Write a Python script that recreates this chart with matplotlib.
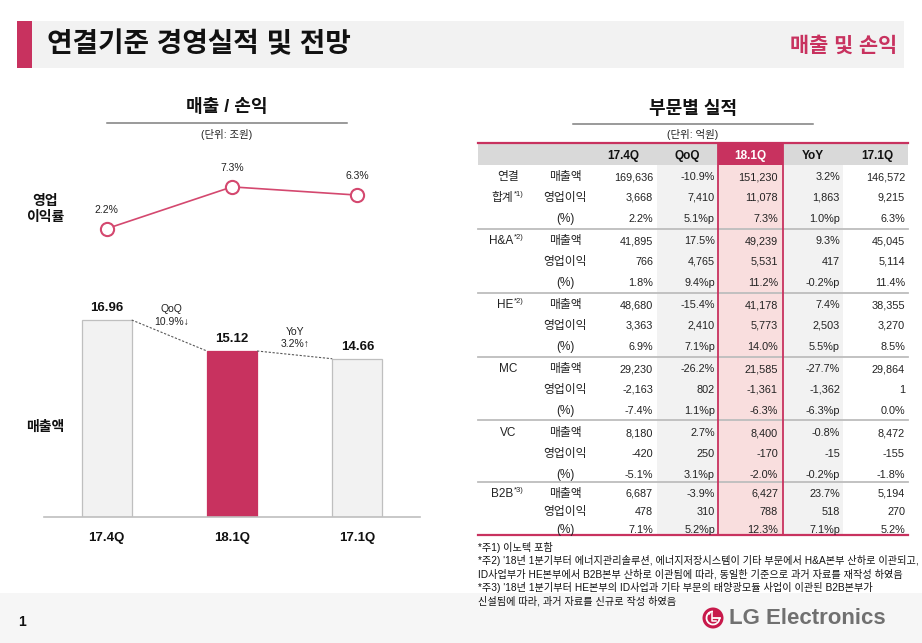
import matplotlib.pyplot as plt
from matplotlib.patches import Rectangle, Circle, Arc

plt.rcParams['font.family'] = ['Liberation Sans', 'Noto Sans CJK KR', 'DejaVu Sans']

PINK = '#C8325F'
LINE_PINK = '#D4486F'
TXT = '#222222'

# left chart data (조원, %)
quarters = ['17.4Q', '18.1Q', '17.1Q']
sales = [16.96, 15.12, 14.66]
op_margin = [2.2, 7.3, 6.3]
highlight = '18.1Q'
qoq_note = 'QoQ\n10.9%↓'
yoy_note = 'YoY\n3.2%↑'

# table data (억원)
col_heads = ['17.4Q', 'QoQ', '18.1Q', 'YoY', '17.1Q']
segments = [['연결', '합계'], ['H&A'], ['HE'], ['MC'], ['VC'], ['B2B']]
seg_notes = ['*1)', '*2)', '*2)', '', '', '*3)']
metrics = ['매출액', '영업이익', '(%)']

q4_17 = ['169,636', '3,668', '2.2%', '41,895', '766', '1.8%',
         '48,680', '3,363', '6.9%', '29,230', '-2,163', '-7.4%',
         '8,180', '-420', '-5.1%', '6,687', '478', '7.1%']
qoq = ['-10.9%', '7,410', '5.1%p', '17.5%', '4,765', '9.4%p',
       '-15.4%', '2,410', '7.1%p', '-26.2%', '802', '1.1%p',
       '2.7%', '250', '3.1%p', '-3.9%', '310', '5.2%p']
q1_18 = ['151,230', '11,078', '7.3%', '49,239', '5,531', '11.2%',
         '41,178', '5,773', '14.0%', '21,585', '-1,361', '-6.3%',
         '8,400', '-170', '-2.0%', '6,427', '788', '12.3%']
yoy = ['3.2%', '1,863', '1.0%p', '9.3%', '417', '-0.2%p',
       '7.4%', '2,503', '5.5%p', '-27.7%', '-1,362', '-6.3%p',
       '-0.8%', '-15', '-0.2%p', '23.7%', '518', '7.1%p']
q1_17 = ['146,572', '9,215', '6.3%', '45,045', '5,114', '11.4%',
         '38,355', '3,270', '8.5%', '29,864', '1', '0.0%',
         '8,472', '-155', '-1.8%', '5,194', '270', '5.2%']
table_cols = [q4_17, qoq, q1_18, yoy, q1_17]

footnotes = [
    '*주1) 이노텍 포함',
    "*주2) '18년 1분기부터 에너지관리솔루션, 에너지저장시스템이 기타 부문에서 H&A본부 산하로 이관되고,",
    'ID사업부가 HE본부에서 B2B본부 산하로 이관됨에 따라, 동일한 기준으로 과거 자료를 재작성 하였음',
    "*주3) '18년 1분기부터 HE본부의 ID사업과 기타 부문의 태양광모듈 사업이 이관된 B2B본부가",
    '신설됨에 따라, 과거 자료를 신규로 작성 하였음',
]

W, H = 922, 643
fig = plt.figure(figsize=(W / 100, H / 100), dpi=100)

# background axes in pixel coordinates
bg = fig.add_axes([0, 0, 1, 1])
bg.set_xlim(0, W)
bg.set_ylim(H, 0)
bg.axis('off')


def px_rect(x0, y0, x1, y1):
    return [x0 / W, 1 - y1 / H, (x1 - x0) / W, (y1 - y0) / H]


def cell(x, y, s, size=7.8, ha='right', **kw):
    # baseline placed so glyphs sit centred on the row line
    bg.text(x, y + 4, s, fontsize=size, ha=ha, va='baseline', color=kw.pop('color', TXT), **kw)


# header band
bg.add_patch(Rectangle((17, 21), 15, 47, color=PINK, lw=0))
bg.add_patch(Rectangle((32, 21), 872, 47, color='#f2f2f2', lw=0))
bg.text(47, 45, '연결기준 경영실적 및 전망', fontsize=20, weight='bold', color='#111111', va='center')
bg.text(897, 46, '매출 및 손익', fontsize=15, weight='bold', color=PINK, va='center', ha='right')

# footer
bg.add_patch(Rectangle((0, 593), W, 50, color='#f6f6f6', lw=0))
bg.text(18, 622, '1', fontsize=10, weight='bold', color='#111111', va='center')
bg.add_patch(Circle((713, 618), 10.5, color='#C8194B', lw=0))
bg.add_patch(Arc((713, 618), 13, 13, theta1=0, theta2=270, color='white', lw=1.3))
bg.plot([713, 719.5], [618, 618], color='white', lw=1.3)
bg.add_patch(Circle((709.2, 613.5), 1.2, color='white', lw=0))
bg.plot([712, 712, 715.5], [612.5, 621, 621], color='white', lw=1.1)
bg.text(729, 618, 'LG Electronics', fontsize=16, weight='bold', color='#707070', va='center')

# left panel titles
bg.text(227, 107, '매출 / 손익', fontsize=13, weight='bold', color='#111111', ha='center', va='center')
bg.plot([107, 347], [123, 123], color='#7f7f7f', lw=1.1)
bg.text(227, 134, '(단위: 조원)', fontsize=7.5, color=TXT, ha='center', va='center')
bg.text(45, 209, '영업\n이익률', fontsize=10, weight='bold', color='#111111', ha='center', va='center',
        linespacing=1.15)
bg.text(45, 427, '매출액', fontsize=10, weight='bold', color='#111111', ha='center', va='center')

# operating margin line
ax1 = fig.add_axes(px_rect(44, 150, 420, 250))
ax1.set_xlim(-0.5, 2.5)
ax1.set_ylim(-0.4, 11.8)
ax1.axis('off')
xs = list(range(len(quarters)))
ax1.plot(xs, op_margin, color=LINE_PINK, lw=1.2, marker='o', ms=9.5, mfc='white', mec=LINE_PINK, mew=1.5)
for x, v in zip(xs, op_margin):
    ax1.annotate(f'{v:.1f}%', (x, v), xytext=(0, 13.5), textcoords='offset points',
                 ha='center', va='center', fontsize=7.5, color=TXT)

# sales bars
ax2 = fig.add_axes(px_rect(44, 290, 420, 517))
ax2.set_xlim(-0.5, 2.5)
ax2.set_ylim(5.27, 18.74)
colors = [PINK if q == highlight else '#f2f2f2' for q in quarters]
edges = [PINK if q == highlight else '#bfbfbf' for q in quarters]
ax2.bar(xs, [s - 5.27 for s in sales], bottom=5.27, width=0.4, color=colors, edgecolor=edges, lw=0.9)
for x, s in zip(xs, sales):
    ax2.annotate(f'{s:.2f}', (x, s), xytext=(0, 4), textcoords='offset points',
                 ha='center', va='bottom', fontsize=9.5, weight='bold', color='#111111')
bw = 0.2
ax2.plot([0 + bw, 1 - bw], [sales[0], sales[1]], color='#595959', lw=0.8, ls=(0, (2, 1.5)))
ax2.plot([1 + bw, 2 - bw], [sales[1], sales[2]], color='#595959', lw=0.8, ls=(0, (2, 1.5)))
ax2.text(0.52, 17.22, qoq_note, ha='center', va='center', fontsize=7.5, color=TXT, linespacing=1.3)
ax2.text(1.5, 15.9, yoy_note, ha='center', va='center', fontsize=7.5, color=TXT, linespacing=1.3)
ax2.set_xticks(xs)
ax2.set_xticklabels(quarters, fontsize=9.5, weight='bold', color='#111111')
ax2.tick_params(axis='x', length=0, pad=11)
ax2.set_yticks([])
for side in ['top', 'right', 'left']:
    ax2.spines[side].set_visible(False)
ax2.spines['bottom'].set_color('#bfbfbf')
ax2.spines['bottom'].set_linewidth(1.2)
ax2.patch.set_alpha(0)

# right panel: table
bg.text(693, 110, '부문별 실적', fontsize=13, weight='bold', color='#111111', ha='center', va='center')
bg.plot([573, 813], [124, 124], color='#7f7f7f', lw=1.1)
bg.text(693, 134, '(단위: 억원)', fontsize=7.5, color=TXT, ha='center', va='center')

tx0, tx1 = 478, 908
top, head_bot, bottom = 143, 165, 535
col_left = [None, 657, 718, 783, None]
col_right = [None, 718, 783, 843, None]
head_x = [623, 687, 750, 813, 877]
val_right = [653, 715, 778, 840, 905]
group_y = [176, 240, 304, 368, 432, 493]
group_step = [21, 21, 21, 21, 21, 18]
seps = [229, 293, 357, 420, 482]

bg.add_patch(Rectangle((tx0, top), tx1 - tx0, head_bot - top, color='#d9d9d9', lw=0))
for c in (1, 3):
    bg.add_patch(Rectangle((col_left[c], head_bot), col_right[c] - col_left[c], bottom - head_bot,
                           color='#f2f2f2', lw=0))
bg.add_patch(Rectangle((718, head_bot), 65, bottom - head_bot, color='#f9dede', lw=0))
bg.add_patch(Rectangle((718, top), 65, head_bot - top, color=PINK, lw=0))
for y in seps:
    bg.plot([tx0, tx1], [y, y], color='#bdbdbd', lw=1.3)
bg.plot([tx0, tx1], [top, top], color=PINK, lw=1.6)
bg.plot([tx0, tx1], [bottom, bottom], color=PINK, lw=1.6)
for x in (718, 783):
    bg.plot([x, x], [top, bottom], color=PINK, lw=1.3)

for c, head in enumerate(col_heads):
    cell(head_x[c], 155, head, size=8.5, ha='center', weight='bold',
         color='white' if head == highlight else '#111111')

for g, seg in enumerate(segments):
    ys = [group_y[g] + k * group_step[g] for k in range(len(metrics))]
    if len(seg) == 2:
        cell(508, ys[0], seg[0], size=8.5, ha='center')
    label = seg[-1]
    ly = ys[len(seg) - 1]
    if seg_notes[g]:
        cell(513, ly, label, size=8.5, ha='right')
        cell(514, ly - 5, seg_notes[g], size=5.5, ha='left')
    else:
        cell(508, ly, label, size=8.5, ha='center')
    for k, m in enumerate(metrics):
        cell(565, ys[k], m, size=8.5, ha='center')
        for c, col in enumerate(table_cols):
            cell(val_right[c], ys[k], col[g * 3 + k])

for i, line in enumerate(footnotes):
    bg.text(478, 547 + i * 13.5, line, fontsize=7.3, ha='left', va='center', color='#111111')

fig.savefig('out.png', dpi=100)
